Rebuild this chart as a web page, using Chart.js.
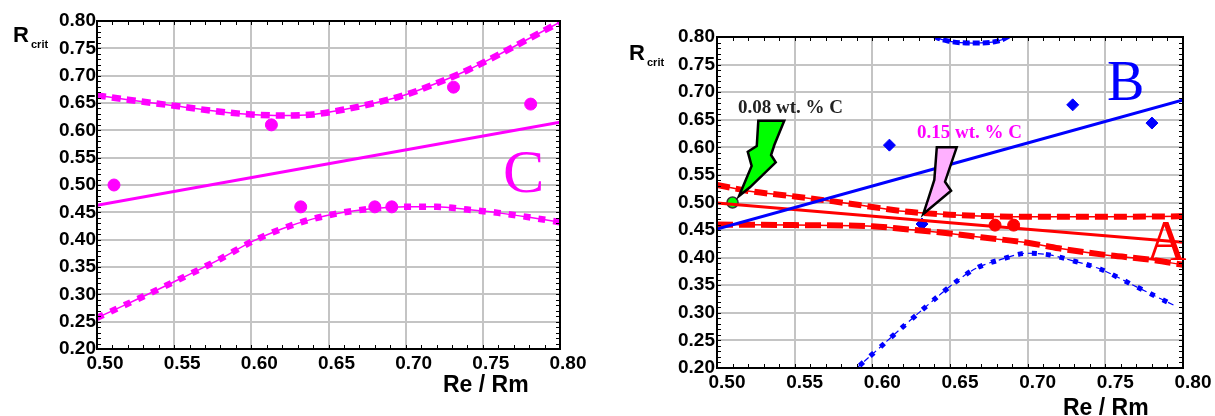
<!DOCTYPE html>
<html><head><meta charset="utf-8">
<script src="https://cdn.jsdelivr.net/npm/chart.js@4.4.1/dist/chart.umd.min.js"></script>
<style>
html,body{margin:0;padding:0;background:#fff;width:1215px;height:416px;overflow:hidden}
#c1{position:absolute;left:0;top:0}
#c2{position:absolute;left:600px;top:0}
</style></head><body>
<canvas id="c1" width="600" height="416"></canvas>
<canvas id="c2" width="615" height="416"></canvas>
<script>
// ---------- shared ticks ----------
const xTicks = [0.50, 0.55, 0.60, 0.65, 0.70, 0.75, 0.80];
const yTicks = [0.20, 0.25, 0.30, 0.35, 0.40, 0.45, 0.50, 0.55, 0.60, 0.65, 0.70, 0.75, 0.80];

// ---------- left panel (C, magenta) ----------
const cLineX = [0.50, 0.80];
const cLineY = [0.463, 0.615];
const cUpX = [0.50, 0.52, 0.55, 0.58, 0.60, 0.62, 0.64, 0.66, 0.68, 0.70, 0.72, 0.74, 0.76, 0.78, 0.80];
const cUpY = [0.664, 0.656, 0.645, 0.634, 0.629, 0.627, 0.629, 0.638, 0.650, 0.665, 0.686, 0.710, 0.738, 0.768, 0.798];
const cLoX = [0.50, 0.52, 0.55, 0.58, 0.60, 0.62, 0.64, 0.66, 0.68, 0.70, 0.72, 0.74, 0.76, 0.78, 0.80];
const cLoY = [0.257, 0.283, 0.323, 0.365, 0.396, 0.420, 0.438, 0.450, 0.457, 0.460, 0.460, 0.455, 0.449, 0.441, 0.432];
const cPtX = [0.511, 0.613, 0.632, 0.680, 0.691, 0.731, 0.781];
const cPtY = [0.500, 0.610, 0.460, 0.460, 0.460, 0.679, 0.648];

// ---------- right panel (A red, B blue) ----------
const bLineX = [0.50, 0.80];
const bLineY = [0.452, 0.686];
const bLoX = [0.585, 0.59, 0.60, 0.623, 0.644, 0.656, 0.667, 0.682, 0.70, 0.714, 0.727, 0.747, 0.768, 0.794];
const bLoY = [0.188, 0.200, 0.225, 0.283, 0.334, 0.361, 0.381, 0.396, 0.408, 0.405, 0.396, 0.379, 0.350, 0.314];
const bUpX = [0.635, 0.641, 0.650, 0.665, 0.680, 0.687, 0.693];
const bUpY = [0.815, 0.800, 0.792, 0.789, 0.792, 0.800, 0.815];
const bPtX = [0.611, 0.729, 0.780, 0.632];
const bPtY = [0.604, 0.677, 0.644, 0.461];

const aLineX = [0.50, 0.80];
const aLineY = [0.499, 0.428];
const aUpX = [0.50, 0.52, 0.55, 0.575, 0.60, 0.62, 0.65, 0.70, 0.75, 0.80];
const aUpY = [0.532, 0.521, 0.511, 0.502, 0.492, 0.484, 0.478, 0.474, 0.474, 0.475];
const aLoX = [0.50, 0.55, 0.60, 0.62, 0.65, 0.67, 0.70, 0.72, 0.75, 0.78, 0.80];
const aLoY = [0.460, 0.459, 0.457, 0.452, 0.444, 0.437, 0.427, 0.417, 0.405, 0.396, 0.387];
const aPtX = [0.679, 0.691];
const aPtY = [0.459, 0.459];
const gPtX = [0.510];
const gPtY = [0.500];

// annotation arrows (in data units)
const greenArrowX = [0.5266, 0.5433, 0.5369, 0.5348, 0.5378, 0.5212, 0.5142, 0.5223, 0.5198, 0.5256];
const greenArrowY = [0.6483, 0.6483, 0.6042, 0.5861, 0.5729, 0.5276, 0.5118, 0.5662, 0.5921, 0.6024];
const pinkArrowX = [0.6415, 0.6543, 0.6468, 0.6507, 0.6328, 0.6361, 0.6399];
const pinkArrowY = [0.6001, 0.6001, 0.5377, 0.5214, 0.4792, 0.5076, 0.5408];

const pts = (xs, ys) => xs.map((x, i) => ({x, y: ys[i]}));
const M = '#ff00ff', R = '#ff0000', B = '#0000ff';

const deco = {
  id: 'deco',
  afterDatasetsDraw(chart, args, o) {
    const ctx = chart.ctx, xs = chart.scales.x, ys = chart.scales.y;
    ctx.save();
    (o.shapes || []).forEach(sh => {
      ctx.beginPath();
      sh.xs.forEach((x, i) => {
        const px = xs.getPixelForValue(x), py = ys.getPixelForValue(sh.ys[i]);
        if (i) ctx.lineTo(px, py); else ctx.moveTo(px, py);
      });
      ctx.closePath();
      ctx.fillStyle = sh.fill; ctx.fill();
      ctx.lineWidth = 2.5; ctx.strokeStyle = '#000'; ctx.lineJoin = 'miter'; ctx.stroke();
    });
    ctx.restore();
  },
  afterDraw(chart, args, o) {
    const ctx = chart.ctx, a = chart.chartArea, xs = chart.scales.x, ys = chart.scales.y;
    ctx.save();
    ctx.strokeStyle = '#000'; ctx.lineWidth = 2;
    ctx.strokeRect(a.left, a.top, a.right - a.left, a.bottom - a.top);
    ctx.lineWidth = 1;
    ctx.beginPath();
    for (let i = 0; i <= 30; i++) {
      const px = Math.round(xs.getPixelForValue(0.5 + i * 0.01)) + 0.5;
      ctx.moveTo(px, a.bottom); ctx.lineTo(px, a.bottom - 4);
      ctx.moveTo(px, a.top); ctx.lineTo(px, a.top + 4);
    }
    for (let i = 0; i <= 60; i++) {
      const py = Math.round(ys.getPixelForValue(0.2 + i * 0.01)) + 0.5;
      ctx.moveTo(a.left, py); ctx.lineTo(a.left + 4, py);
      ctx.moveTo(a.right, py); ctx.lineTo(a.right - 4, py);
    }
    ctx.stroke();
    (o.texts || []).forEach(t => {
      ctx.font = t.font; ctx.fillStyle = t.color || '#000';
      ctx.textAlign = 'left'; ctx.textBaseline = 'alphabetic';
      ctx.fillText(t.t, t.x, t.y);
    });
    ctx.restore();
  }
};

function scales(yW, xH, xOff, yPad) {
  const font = {family: '"Liberation Sans", Arial, sans-serif', weight: 'bold', size: 19};
  return {
    x: {type: 'linear', min: 0.5, max: 0.8,
        afterBuildTicks: s => { s.ticks = xTicks.map(v => ({value: v})); },
        ticks: {callback: v => Number(v).toFixed(2), font, color: '#000', padding: 3, labelOffset: xOff, maxRotation: 0, autoSkip: false},
        grid: {color: '#c4c4c4', lineWidth: 2, drawTicks: false},
        border: {display: false},
        afterFit: s => { s.height = xH; }},
    y: {type: 'linear', min: 0.2, max: 0.8,
        afterBuildTicks: s => { s.ticks = yTicks.map(v => ({value: v})); },
        ticks: {callback: v => Number(v).toFixed(2), font, color: '#000', padding: yPad, autoSkip: false},
        grid: {color: '#c4c4c4', lineWidth: 2, drawTicks: false},
        border: {display: false},
        afterFit: s => { s.width = yW; }}
  };
}

const base = {
  responsive: false, devicePixelRatio: 1, animation: false,
  events: []
};
const line = (xs, ys, color, w, dash) => ({data: pts(xs, ys), showLine: true, borderColor: color, borderWidth: w,
  borderDash: dash || [], pointRadius: 0, cubicInterpolationMode: 'monotone', fill: false});

const serif = '"Liberation Serif", "Times New Roman", serif';
const sans = '"Liberation Sans", Arial, sans-serif';

new Chart(document.getElementById('c1'), {
  type: 'scatter',
  data: {datasets: [
    line(cLineX, cLineY, M, 3),
    line(cUpX, cUpY, M, 1.5),
    line(cUpX, cUpY, M, 6.5, [9, 6]),
    line(cLoX, cLoY, M, 1.5),
    line(cLoX, cLoY, M, 6.5, [7, 8]),
    {data: pts(cPtX, cPtY), pointRadius: 6, pointBackgroundColor: M, pointBorderColor: M, showLine: false}
  ]},
  options: Object.assign({}, base, {
    layout: {padding: {top: 21, right: 40, left: 0, bottom: 0}},
    scales: scales(97, 67, 8, 1),
    plugins: {legend: {display: false}, tooltip: {enabled: false},
      deco: {texts: [
        {t: 'R', x: 13, y: 42, font: 'bold 22px ' + sans},
        {t: 'crit', x: 31, y: 48, font: 'bold 11px ' + sans},
        {t: 'Re / Rm', x: 443, y: 392, font: 'bold 23px ' + sans},
        {t: 'C', x: 503, y: 192, font: '62px ' + serif, color: M}
      ]}}
  }),
  plugins: [deco]
});

new Chart(document.getElementById('c2'), {
  type: 'scatter',
  data: {datasets: [
    line(bLineX, bLineY, B, 3),
    line(bLoX, bLoY, B, 1.2, [6, 4]),
    line(bLoX, bLoY, B, 5, [5, 9]),
    line(bUpX, bUpY, B, 1.2),
    line(bUpX, bUpY, B, 5, [7, 3]),
    line(aLineX, aLineY, R, 3),
    line(aUpX, aUpY, R, 1.5),
    line(aUpX, aUpY, R, 6, [13, 6]),
    line(aLoX, aLoY, R, 1.5),
    line(aLoX, aLoY, R, 6, [16, 6]),
    {data: pts(aPtX, aPtY), pointRadius: 6, pointBackgroundColor: R, pointBorderColor: R, showLine: false},
    {data: pts(bPtX, bPtY), pointRadius: 6, pointStyle: 'rectRot', pointBackgroundColor: B, pointBorderColor: B, showLine: false},
    {data: pts(gPtX, gPtY), pointRadius: 5.5, pointBackgroundColor: '#00ff00', pointBorderColor: '#333', pointBorderWidth: 1.5, showLine: false}
  ]},
  options: Object.assign({}, base, {
    layout: {padding: {top: 37, right: 32, left: 0, bottom: 0}},
    scales: scales(117, 48, 10, 2),
    plugins: {legend: {display: false}, tooltip: {enabled: false},
      deco: {
        shapes: [
          {xs: greenArrowX, ys: greenArrowY, fill: '#00ff00'},
          {xs: pinkArrowX, ys: pinkArrowY, fill: '#ffb0ff'}
        ],
        texts: [
          {t: 'R', x: 29, y: 60, font: 'bold 22px ' + sans},
          {t: 'crit', x: 47, y: 66, font: 'bold 11px ' + sans},
          {t: 'Re / Rm', x: 463, y: 415, font: 'bold 23px ' + sans},
          {t: 'B', x: 507, y: 100, font: '56px ' + serif, color: B},
          {t: 'A', x: 546, y: 260, font: '56px ' + serif, color: R},
          {t: '0.08 wt. % C', x: 138, y: 113, font: 'bold 19px ' + serif, color: '#222'},
          {t: '0.15 wt. % C', x: 317, y: 138, font: 'bold 19px ' + serif, color: M}
        ]}}
  }),
  plugins: [deco]
});
</script>
</body></html>
